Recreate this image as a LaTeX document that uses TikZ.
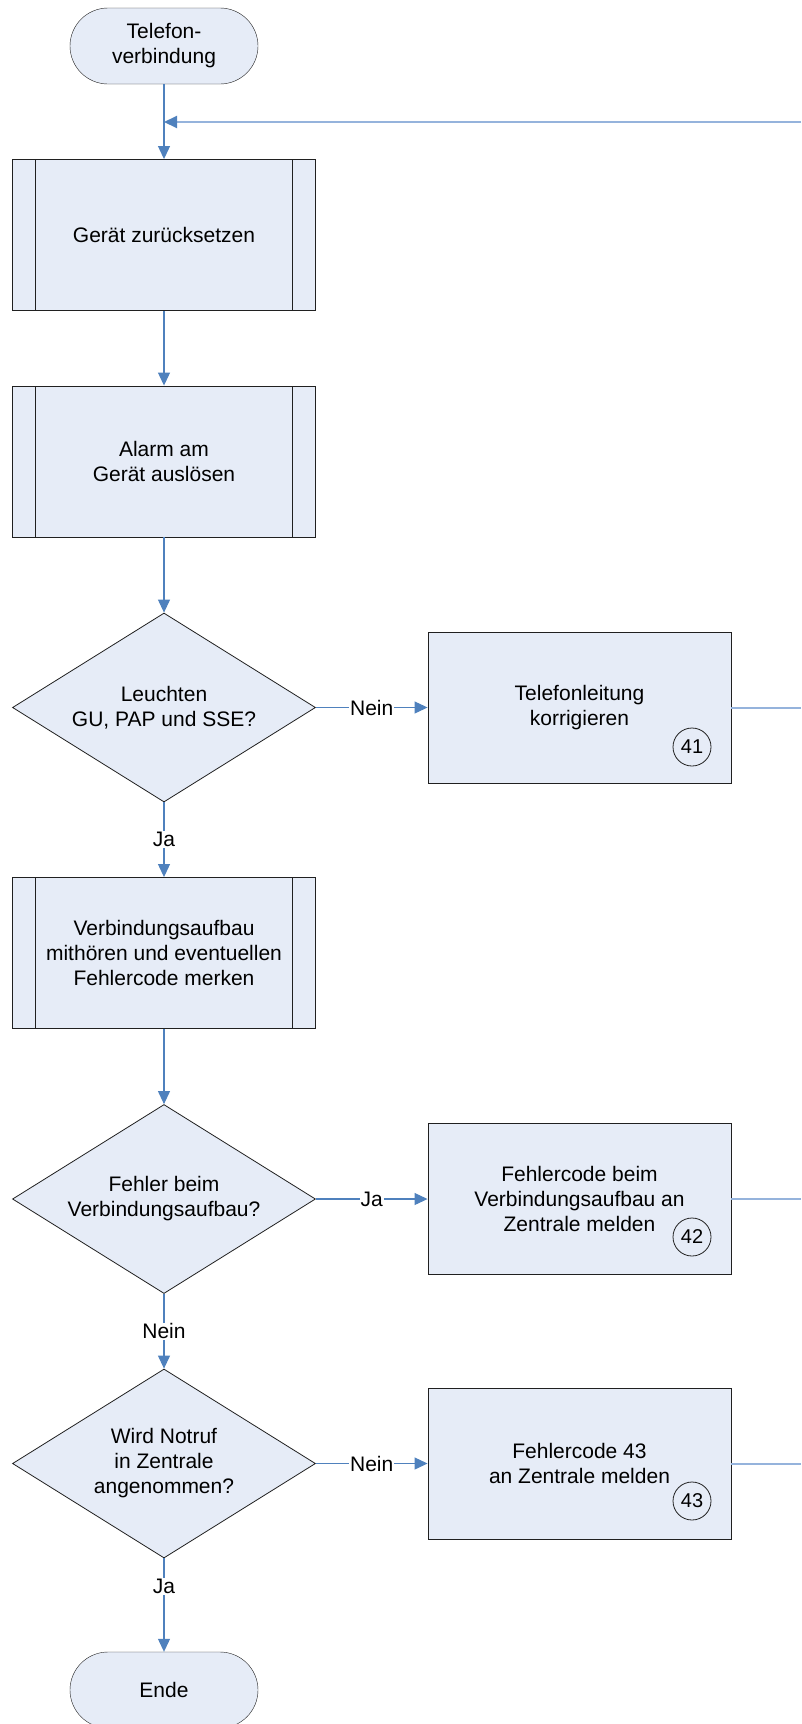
\documentclass[tikz,border=0pt]{standalone}
\usepackage{fontspec}
\setmainfont{Liberation Sans}
\usetikzlibrary{shapes.geometric,arrows.meta}
\definecolor{boxfill}{HTML}{E6ECF7}
\definecolor{boxline}{HTML}{202020}
\definecolor{flow}{HTML}{4F81BD}
\definecolor{flowlight}{HTML}{95B3DC}
\newcommand{\chartfont}{\fontsize{21pt}{25pt}\selectfont}
\begin{document}
\begin{tikzpicture}[x=1pt,y=-1pt,
  every node/.style={font=\chartfont},
  terminal/.style={draw=boxline, fill=boxfill, rounded corners=38pt,
    minimum width=188pt, minimum height=76pt, inner sep=0pt, align=center},
  procbox/.style={draw=boxline, fill=boxfill, line width=0.9pt,
    minimum width=303pt, minimum height=151pt, inner sep=0pt, align=center},
  subproc/.style={procbox, path picture={
    \draw[boxline, line width=0.9pt]
      ([xshift=23pt]path picture bounding box.north west) --
      ([xshift=23pt]path picture bounding box.south west)
      ([xshift=-23pt]path picture bounding box.north east) --
      ([xshift=-23pt]path picture bounding box.south east);}},
  decision/.style={diamond, draw=boxline, fill=boxfill, line width=0.8pt,
    minimum width=303pt, minimum height=189pt, shape aspect=1.6,
    inner sep=0pt, align=center},
  marker/.style={circle, draw=boxline, line width=0.8pt, minimum size=38pt,
    inner sep=0pt, font=\fontsize{20pt}{24pt}\selectfont},
  flowarrow/.style={draw=flow, line width=1.1pt,
    -{Triangle[length=13pt,width=12pt]}},
  flowline/.style={draw=flowlight, line width=2pt},
  answer/.style={fill=white, inner sep=1pt}
]
\useasboundingbox (0,0) rectangle (801,1724);

% main column
\node[terminal] (start) at (164,46) {Telefon-\\verbindung};
\node[subproc] (reset) at (164,235) {Gerät zurücksetzen};
\node[subproc] (alarm) at (164,461.5) {Alarm am\\Gerät auslösen};
\node[decision] (lamps) at (164,707.5) {Leuchten\\GU, PAP und SSE?};
\node[subproc] (listen) at (164,953) {Verbindungsaufbau\\mithören und eventuellen\\Fehlercode merken};
\node[decision] (fault) at (164,1199) {Fehler beim\\Verbindungsaufbau?};
\node[decision] (accept) at (164,1463.5) {Wird Notruf\\in Zentrale\\angenommen?};
\node[terminal] (finish) at (164,1690) {Ende};

% error branches
\node[procbox] (line41) at (579.5,707.5) {Telefonleitung\\korrigieren};
\node[marker] (m41) at (692,747) {41};
\node[procbox] (code42) at (579.5,1199) {Fehlercode beim\\Verbindungsaufbau an\\Zentrale melden};
\node[marker] (m42) at (692,1237) {42};
\node[procbox] (code43) at (579.5,1463.5) {Fehlercode 43\\an Zentrale melden};
\node[marker] (m43) at (692,1501) {43};

% loop back to the reset step
\coordinate (back) at (801,122);
\coordinate (join) at (164,122);
\coordinate (out41) at (801,707.5);
\coordinate (out42) at (801,1199);
\coordinate (out43) at (801,1463.5);

\draw[flow, line width=1.1pt] (start) -- (join);
\draw[flowarrow] (join) -- (reset);
\draw[flowline, -{Triangle[length=13pt,width=12pt,color=flow]}] (back) -- (join);
\draw[flowarrow] (reset) -- (alarm);
\draw[flowarrow] (alarm) -- (lamps);
\draw[flowarrow] (lamps) -- node[answer] (jaA) {Ja} (listen);
\draw[flowarrow] (lamps) -- node[answer] (neinA) {Nein} (line41);
\draw[flowarrow] (listen) -- (fault);
\draw[flowarrow] (fault) -- node[answer] (jaB) {Ja} (code42);
\draw[flowarrow] (fault) -- node[answer] (neinB) {Nein} (accept);
\draw[flowarrow] (accept) -- node[answer] (neinC) {Nein} (code43);
\draw[flowarrow] (accept) -- node[answer, pos=0.3] (jaC) {Ja} (finish);

\draw[flowline] (line41) -- (out41);
\draw[flowline] (code42) -- (out42);
\draw[flowline] (code43) -- (out43);
\end{tikzpicture}
\end{document}
